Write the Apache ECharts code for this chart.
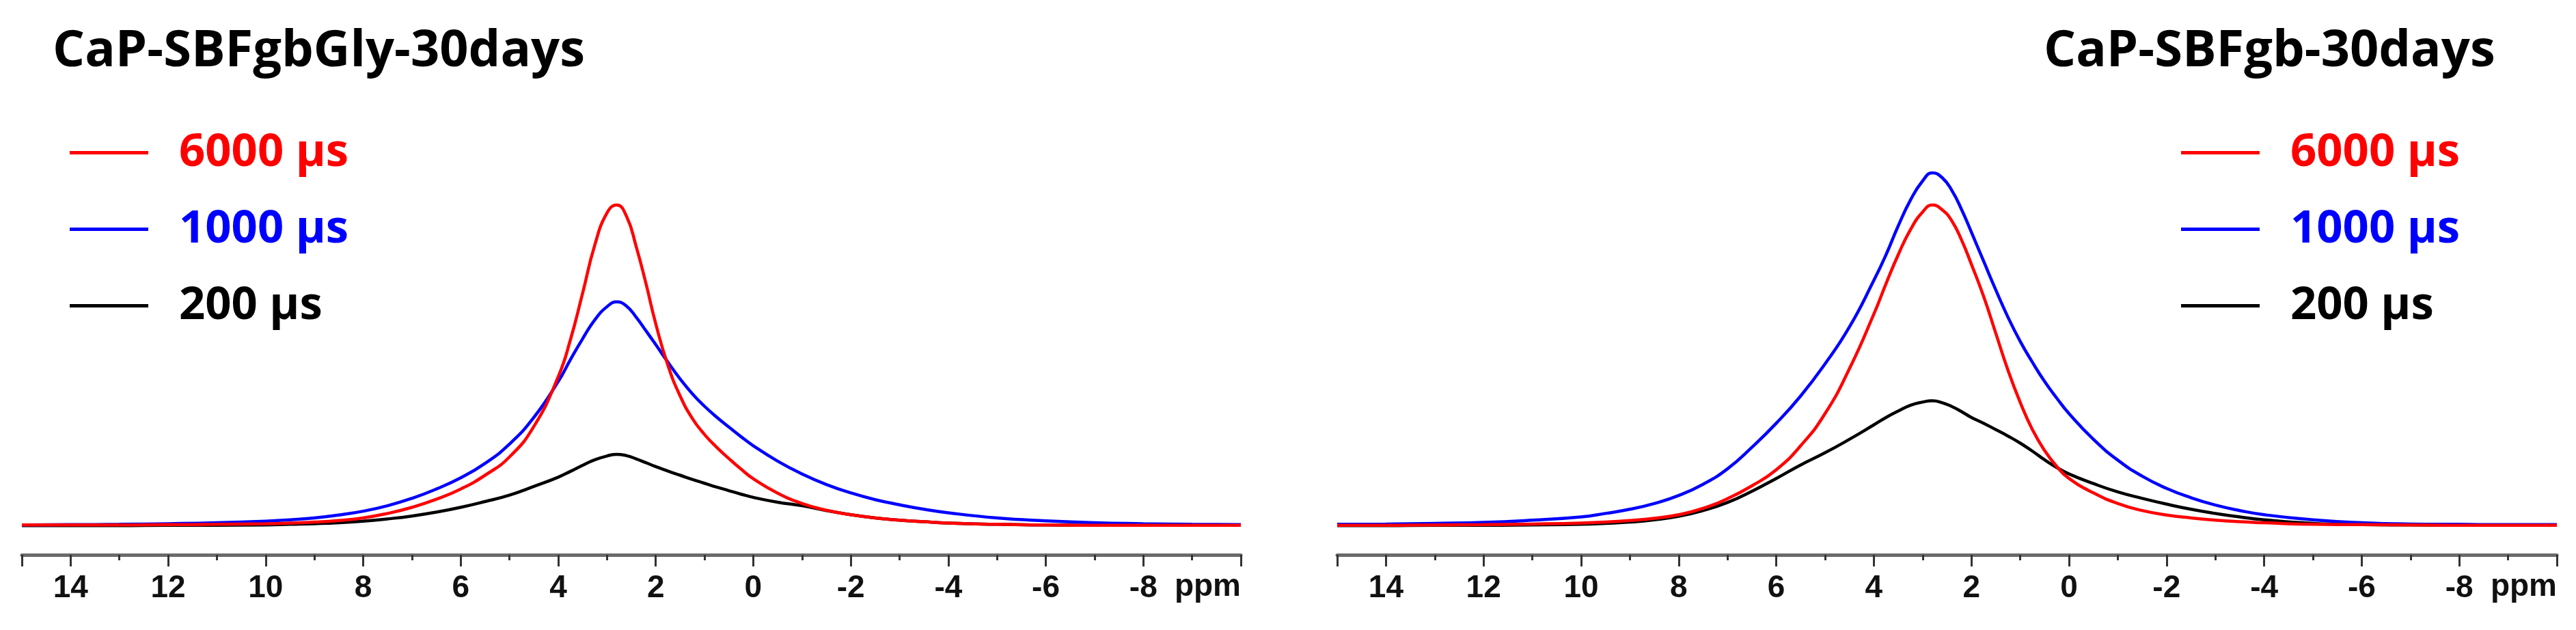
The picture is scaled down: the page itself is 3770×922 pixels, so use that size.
<!DOCTYPE html>
<html>
<head>
<meta charset="utf-8">
<script src="https://cdn.jsdelivr.net/npm/echarts@6/dist/echarts.min.js"></script>
<style>
html, body { margin: 0; padding: 0; background: #fff; }
#chart { width: 3770px; height: 922px; }
</style>
</head>
<body>
<div id="chart"></div>
<script>
// chemical shift (ppm), shared by every trace
var ppm = [15, 14, 13, 12, 11, 10, 9.5, 9, 8.5, 8, 7.5, 7, 6.5, 6, 5.5, 5, 4.5, 4, 3.75, 3.5, 3.25, 3, 2.8, 2.6, 2.4, 2.2, 2, 1.75, 1.5, 1.25, 1, 0.75, 0.5, 0.25, 0, -0.5, -1, -1.5, -2, -2.5, -3, -3.5, -4, -5, -6, -7, -8, -9, -10]

// CaP-SBFgbGly-30days
var gly6000 = [0.3, 0.3, 0.3, 0.4, 0.5, 0.7, 0.9, 1.2, 1.7, 2.5, 3.9, 5.8, 8.3, 11.5, 15.8, 21.5, 31, 46.5, 58, 72.5, 87.5, 97.5, 100, 96.5, 87, 75.5, 63, 50, 40.5, 33.5, 28.5, 24.5, 21, 17.7, 14.7, 10.2, 7, 4.9, 3.5, 2.5, 1.8, 1.3, 0.9, 0.5, 0.3, 0.2, 0.2, 0.2, 0.2]
var gly1000 = [0.3, 0.4, 0.5, 0.7, 1.0, 1.5, 1.9, 2.5, 3.4, 4.6, 6.3, 8.6, 11.5, 15, 19.5, 25.5, 33.8, 45, 51.8, 58.3, 64.2, 68.3, 69.8, 68.5, 65, 60.8, 56.5, 51, 45.8, 41.2, 37.3, 33.9, 30.8, 27.8, 25, 20.2, 16.2, 12.9, 10.3, 8.2, 6.6, 5.2, 4.1, 2.5, 1.6, 1.0, 0.7, 0.5, 0.4]
var gly200 = [0.1, 0.1, 0.1, 0.2, 0.2, 0.3, 0.5, 0.7, 1.0, 1.5, 2.2, 3.1, 4.3, 5.8, 7.6, 9.6, 12.3, 15.2, 17, 18.9, 20.6, 21.8, 22.3, 21.9, 20.9, 19.7, 18.5, 17.1, 15.8, 14.5, 13.3, 12.1, 11, 9.9, 8.9, 7.4, 6.3, 4.8, 3.5, 2.5, 1.8, 1.3, 0.9, 0.5, 0.3, 0.2, 0.2, 0.2, 0.2]

// CaP-SBFgb-30days
var gb6000 = [0.2, 0.2, 0.3, 0.4, 0.6, 0.9, 1.2, 1.7, 2.4, 3.5, 5.5, 8.5, 12.5, 17.5, 25, 35, 49, 66, 75.5, 84.5, 92.3, 97.8, 100, 98.5, 95, 89, 81.5, 71.5, 60, 48.5, 38.5, 30, 23.5, 18.5, 14.8, 10.3, 7, 4.8, 3.4, 2.5, 1.8, 1.3, 1, 0.5, 0.4, 0.3, 0.2, 0.2, 0.2]
var gb1000 = [0.5, 0.6, 0.8, 1.1, 1.8, 2.8, 3.9, 5.2, 7, 9.5, 13, 17.8, 24.5, 32, 40.5, 50.5, 62, 76.5, 84.5, 93.5, 101.5, 107.5, 110, 108.5, 104.5, 98.5, 91.5, 82.5, 73.5, 65, 57.5, 51, 45, 39.8, 35, 27, 20.5, 15.5, 11.7, 8.8, 6.5, 4.8, 3.5, 1.9, 1.0, 0.6, 0.5, 0.4, 0.4]
var gb200 = [0.1, 0.1, 0.2, 0.2, 0.3, 0.5, 0.8, 1.2, 1.9, 3, 4.8, 7.3, 10.8, 14.8, 19, 22.8, 27, 31.5, 33.8, 35.8, 37.6, 38.6, 39, 38.4, 37.2, 35.6, 33.8, 32, 30, 28, 25.8, 23.3, 20.6, 18.2, 16.2, 13.2, 10.6, 8.6, 6.8, 5.2, 3.9, 2.8, 1.9, 0.8, 0.4, 0.3, 0.2, 0.2, 0.2]

var names = ['6000 µs', '1000 µs', '200 µs']
var colors = ['#ff0000', '#0000ff', '#000000']
var titles = ['CaP-SBFgbGly-30days', 'CaP-SBFgb-30days']

function pairs(vals) {
    return ppm.map(function (p, i) { return [p, vals[i]] })
}

var tickFont = '"Liberation Sans Narrow", "Liberation Sans", Arial, sans-serif'
var textFont = '"Open Sans", "Noto Sans", sans-serif'

function xAxisFor(idx) {
    return {
        gridIndex: idx,
        type: 'value',
        inverse: true,
        min: -10,
        max: 15,
        interval: 2,
        axisLine: { show: true, onZero: false, lineStyle: { color: '#6a6a6a', width: 5 } },
        axisTick: { show: true, length: 17, lineStyle: { color: '#333', width: 3 } },
        minorTick: { show: true, splitNumber: 2, length: 8, lineStyle: { color: '#333', width: 3 } },
        splitLine: { show: false },
        axisLabel: {
            margin: 26,
            fontFamily: tickFont,
            fontWeight: 'bold',
            fontSize: 46,
            color: '#111',
            // no labels at the two ends, "ppm" sits there instead
            formatter: function (v) { return (v === -10 || v === 15) ? '' : String(v) }
        }
    }
}

function yAxisFor(idx) {
    return { gridIndex: idx, type: 'value', min: -9, max: 120, show: false, splitLine: { show: false } }
}

function legendFor(left) {
    return {
        orient: 'vertical',
        left: left,
        top: 185,
        icon: 'rect',
        itemWidth: 115,
        itemHeight: 5,
        itemGap: 45,
        selectedMode: false,
        textStyle: { fontFamily: textFont, fontWeight: 'bold', fontSize: 67, lineHeight: 60, padding: [0, 0, 0, 40] },
        data: names.map(function (n, i) { return { name: n, textStyle: { color: colors[i] } } })
    }
}

function lineSeries(name, color, idx, vals) {
    return {
        name: name,
        type: 'line',
        xAxisIndex: idx,
        yAxisIndex: idx,
        data: pairs(vals),
        smooth: 0.5,
        symbol: 'none',
        animation: false,
        lineStyle: { color: color, width: 4.5 },
        itemStyle: { color: color }
    }
}

var option = {
    backgroundColor: '#fff',
    animation: false,
    title: [
        { text: titles[0], left: 72, top: 34, textStyle: { fontFamily: textFont, fontWeight: 'bold', fontSize: 74, color: '#000' } },
        { text: titles[1], left: 2986, top: 34, textStyle: { fontFamily: textFont, fontWeight: 'bold', fontSize: 74, color: '#000' } }
    ],
    legend: [legendFor(97), legendFor(3187)],
    grid: [
        { left: 32, width: 1784, top: 206, height: 606 },
        { left: 1957, width: 1785, top: 206, height: 606 }
    ],
    xAxis: [xAxisFor(0), xAxisFor(1)],
    yAxis: [yAxisFor(0), yAxisFor(1)],
    graphic: [
        { type: 'text', right: 3770 - 1816, top: 836, style: { text: 'ppm', font: 'bold 46px ' + tickFont, fill: '#111' } },
        { type: 'text', right: 3770 - 3742, top: 836, style: { text: 'ppm', font: 'bold 46px ' + tickFont, fill: '#111' } }
    ],
    series: [
        lineSeries(names[2], colors[2], 0, gly200),
        lineSeries(names[1], colors[1], 0, gly1000),
        lineSeries(names[0], colors[0], 0, gly6000),
        lineSeries(names[2], colors[2], 1, gb200),
        lineSeries(names[1], colors[1], 1, gb1000),
        lineSeries(names[0], colors[0], 1, gb6000)
    ]
}

echarts.init(document.getElementById('chart')).setOption(option)
</script>
</body>
</html>
